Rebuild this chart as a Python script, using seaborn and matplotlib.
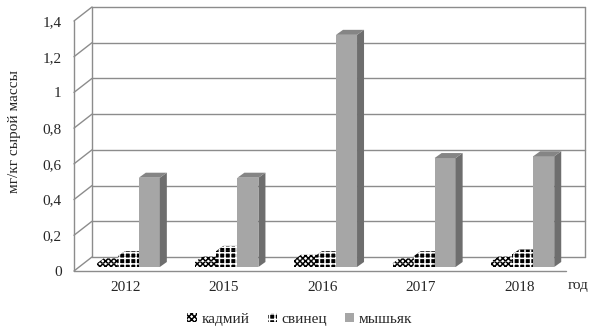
import pandas as pd
import matplotlib.pyplot as plt
import seaborn as sns
from matplotlib.patches import Polygon, Patch
from matplotlib.lines import Line2D
from matplotlib.transforms import IdentityTransform, ScaledTranslation

# data
years = ["2012", "2015", "2016", "2017", "2018"]
cadmium = [0.02, 0.03, 0.04, 0.02, 0.03]
lead = [0.06, 0.09, 0.06, 0.06, 0.07]
arsenic = [0.50, 0.50, 1.30, 0.61, 0.62]
elements = ["кадмий", "свинец", "мышьяк"]
yticks = [0, 0.2, 0.4, 0.6, 0.8, 1.0, 1.2, 1.4]

df = pd.DataFrame({"год": years, "кадмий": cadmium, "свинец": lead, "мышьяк": arsenic})
df = df.melt(id_vars="год", var_name="элемент", value_name="значение")

sns.set_style("white")
plt.rcParams["font.family"] = ["Liberation Serif", "DejaVu Serif"]
plt.rcParams["hatch.linewidth"] = 1.1

# look of each series: front face, side face, top face, hatch
styles = {
    "кадмий": dict(face="white", side="white", top="white", edge="black", hatch="xxxxxx"),
    "свинец": dict(face="black", side="black", top="black", edge="white", hatch="+++"),
    "мышьяк": dict(face="#a6a6a6", side="#6e6e6e", top="#858585", edge="none", hatch=None),
}

fig = plt.figure(figsize=(5.89, 3.31), dpi=100)
ax = fig.add_axes([0.1341, 0.1934, 0.8370, 0.7553])
sns.barplot(data=df, x="год", y="значение", hue="элемент", hue_order=elements,
            palette=[styles[e]["face"] for e in elements], width=0.64, saturation=1,
            errorbar=None, legend=False, ax=ax)
ax.set_ylim(0, 1.4)
ax.set_xlim(-0.5, len(years) - 0.5)
ax.set_xlabel("")
ax.set_ylabel("")
for s in ax.spines.values():
    s.set_visible(False)
ax.patch.set_alpha(0)

ident = IdentityTransform()
wall = "#8c8c8c"
BX, BY = 13, 10    # back wall offset from the bar plane (px)
FX, FY = -5, -4    # front edge offset from the bar plane (px)
DX, DY = 7, 5      # depth of the bars (px)


def seg(p, q):
    ax.add_artist(Line2D([p[0], q[0]], [p[1], q[1]], color=wall, lw=1,
                         transform=ident, zorder=0.5, clip_on=False))


(x0, _), (x1, _) = ax.transAxes.transform([(0, 0), (1, 0)])
for v in yticks:
    yd = ax.transData.transform((0, v))[1]
    seg((x0 + BX, yd + BY), (x1 + BX, yd + BY))
    seg((x0 + FX, yd + FY), (x0 + BX, yd + BY))
ybot = ax.transData.transform((0, 0))[1]
ytop = ax.transData.transform((0, 1.4))[1]
seg((x0 + BX, ybot + BY), (x0 + BX, ytop + BY))
seg((x1 + BX, ybot + BY), (x1 + BX, ytop + BY))
seg((x0 + FX, ybot + FY), (x0 + FX, ytop + FY))
seg((x0 + FX, ybot + FY), (x1 + FX - 1, ybot + FY))

# fake 3D: side and top faces for every bar
for i, (el, cont) in enumerate(zip(elements, ax.containers)):
    st = styles[el]
    z = 2 + i
    for bar in cont:
        bar.set_edgecolor(st["edge"])
        bar.set_linewidth(0)
        bar.set_hatch(st["hatch"])
        bar.set_zorder(z)
        (a, b), (c, d) = ax.transData.transform(
            [(bar.get_x(), 0), (bar.get_x() + bar.get_width(), bar.get_height())])
        side = Polygon([(c, b), (c + DX, b + DY), (c + DX, d + DY), (c, d)],
                       facecolor=st["side"], edgecolor=st["edge"], lw=0,
                       hatch=st["hatch"], transform=ident, zorder=z + 0.1, clip_on=False)
        top = Polygon([(a, d), (a + DX, d + DY), (c + DX, d + DY), (c, d)],
                      facecolor=st["top"], edgecolor=st["edge"], lw=0,
                      hatch=st["hatch"], transform=ident, zorder=z + 0.1, clip_on=False)
        ax.add_artist(side)
        ax.add_artist(top)

ax.set_yticks(yticks)
ax.set_yticklabels([("%g" % v).replace(".", ",") for v in yticks])
ax.tick_params(axis="y", length=0, pad=12.5, labelsize=11)
ax.tick_params(axis="x", length=0, pad=10, labelsize=11)
for lab in ax.get_yticklabels():
    lab.set_transform(lab.get_transform() + ScaledTranslation(0, -0.04, fig.dpi_scale_trans))
for lab in ax.get_xticklabels():
    lab.set_transform(lab.get_transform() + ScaledTranslation(-0.03, 0, fig.dpi_scale_trans))

fig.text(15 / 589, 0.604, "мг/кг сырой массы", rotation=90, ha="center", va="center", fontsize=11)
fig.text(578 / 589, 1 - 285 / 331, "год", ha="center", va="center", fontsize=11)

handles = [Patch(facecolor=styles[e]["face"], edgecolor=styles[e]["edge"], lw=0,
                 hatch=styles[e]["hatch"], label=e) for e in elements]
fig.legend(handles=handles, loc="center", bbox_to_anchor=(300 / 589, 0.035), ncol=3,
           frameon=False, fontsize=11, handlelength=0.6, handleheight=0.6,
           handletextpad=0.3, columnspacing=1.2)

fig.savefig("out.png", dpi=100)
